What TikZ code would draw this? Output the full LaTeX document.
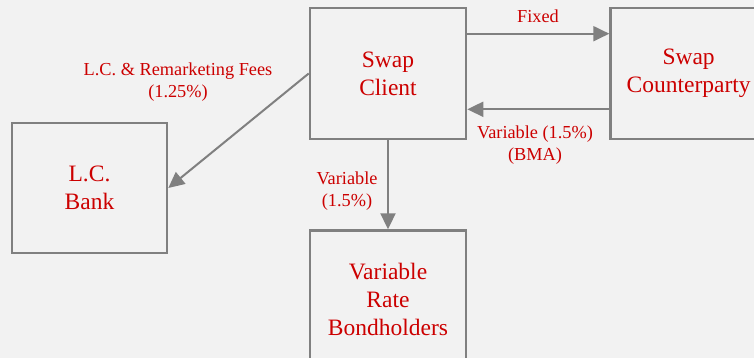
\documentclass[tikz,border=0pt]{standalone}
\usepackage{fontspec}
\setmainfont{Liberation Serif}
\usepackage{xcolor}
\usepackage{tikz}
\usetikzlibrary{
    positioning,
    arrows.meta
}
\definecolor{framegray}{HTML}{808080}
\definecolor{textred}{HTML}{CC0000}
\definecolor{pagebg}{HTML}{F2F2F2}
\tikzset{
    party/.style={
        rectangle, draw=framegray, line width=2.6pt,
        minimum width=156pt, minimum height=131pt,
        inner sep=0pt, align=center, text=textred,
        font=\fontsize{23.5}{28}\selectfont
    },
    flow/.style={
        -{Triangle[length=16pt,width=15pt]}, line width=2pt, draw=framegray
    },
    flowlabel/.style={
        text=textred, align=center,
        font=\fontsize{18.3}{22.5}\selectfont
    }
}

\begin{document}
\begin{tikzpicture}[x=1pt, y=-1pt]
    \fill[pagebg] (0,0) rectangle (754,358);
    \useasboundingbox (0,0) rectangle (754,358);

    \node[party] (client) at (388,73.5) {Swap\\Client};
    \node[party, right=142pt of client] (counter) {Swap\\Counterparty};
    \node[party, minimum width=155pt, minimum height=130pt] (bank) at (89.5,188) {L.C.\\Bank};
    \node[party, minimum height=138pt, below=89pt of client] (bonds) {Variable\\Rate\\Bondholders};

    \draw[flow] ([yshift=-27pt]client.north east) -- ([yshift=-27pt]counter.north west);
    \draw[flow] ([yshift=31pt]counter.south west) -- ([yshift=31pt]client.south east);
    \draw[flow] (client.west) -- (bank.east);
    \draw[flow] (client.south) -- (bonds.north);

    \node[flowlabel] (fixedlbl) at (538,16) {Fixed};
    \node[flowlabel] (bmalbl) at (535,145) {Variable (1.5\%)\\(BMA)};
    \node[flowlabel] (feelbl) at (178,82) {L.C. \& Remarketing Fees\\(1.25\%)};
    \node[flowlabel] (varlbl) at (347,191) {Variable\\(1.5\%)};
\end{tikzpicture}
\end{document}
